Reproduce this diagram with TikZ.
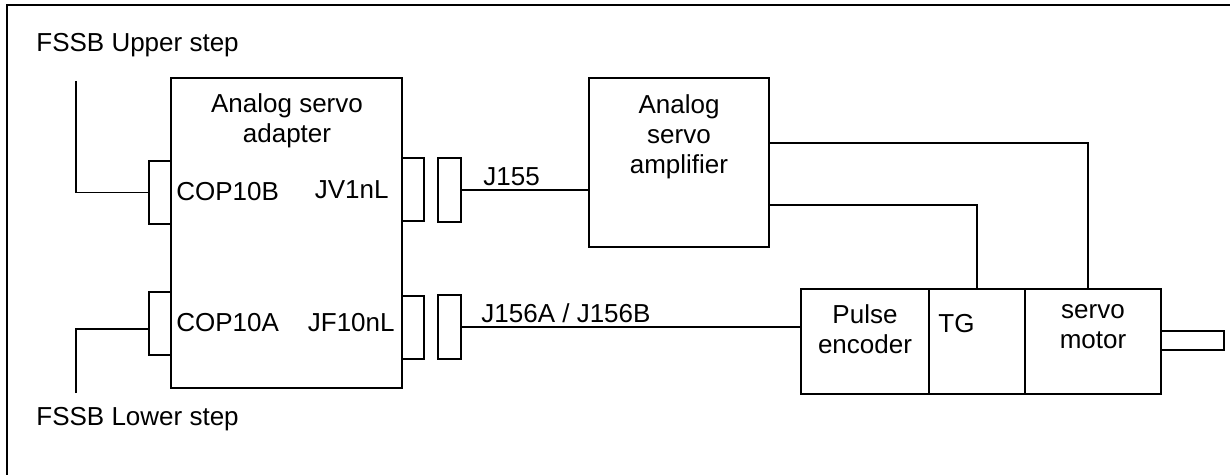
\documentclass[tikz,border=0pt]{standalone}
\usepackage{fontspec}
\setmainfont{Liberation Sans}
\usetikzlibrary{positioning}

\begin{document}
\begin{tikzpicture}[x=0.5pt,y=-0.5pt,
    box/.style={draw,line width=0.7pt,inner sep=0pt},
    filo/.style={line width=0.7pt},
    testo/.style={inner sep=0pt,font=\fontsize{13}{15}\selectfont},
    cornice/.style={line width=1.1pt}]
    \useasboundingbox (0,0) rectangle (1230,475);

    % cornice
    \draw[cornice] (7,480) |- (1240,5);

    % adattatore
    \node[box,minimum width=115.5pt,minimum height=155pt] (adapter) at (286.5,233) {};
    \node[box,minimum width=11pt,minimum height=31.5pt] (copB) at (160,192.5) {};
    \node[box,minimum width=11pt,minimum height=31.5pt] (copA) at (160,323.5) {};
    \node[box,minimum width=11pt,minimum height=31.5pt] (jvl) at (413,189.5) {};
    \node[box,minimum width=11pt,minimum height=31.5pt] (jfl) at (413,327.5) {};
    \node[box,minimum width=11.5pt,minimum height=32pt] (plugA) at (449.5,190) {};
    \node[box,minimum width=11.5pt,minimum height=32pt] (plugB) at (449.5,327) {};

    % amplificatore
    \node[box,minimum width=90pt,minimum height=84.5pt] (amp) at (679,162.5) {};

    % motore
    \node[box,minimum width=64pt,minimum height=52.5pt] (enc) at (865,341.5) {};
    \node[box,minimum width=48pt,minimum height=52.5pt] (tg) at (977,341.5) {};
    \node[box,minimum width=68pt,minimum height=52.5pt] (motor) at (1093,341.5) {};
    \node[box,minimum width=31.5pt,minimum height=9.5pt] (shaft) at (1192.5,340.5) {};

    % testi
    \node[testo,anchor=base west] (upper) at (36,52) {FSSB Upper step};
    \node[testo,anchor=base west] (lower) at (36,425) {FSSB Lower step};
    \node[testo,anchor=north,align=center] (adtxt) at (287,93) {Analog servo\\adapter};
    \node[testo,anchor=base west] (copBtxt) at (176,201) {COP10B};
    \node[testo,anchor=base east] (jvltxt) at (389,199) {JV1nL};
    \node[testo,anchor=base west] (copAtxt) at (176,332) {COP10A};
    \node[testo,anchor=base east] (jfltxt) at (395,332) {JF10nL};
    \node[testo,anchor=base west] (jA) at (483,186) {J155};
    \node[testo,anchor=base west] (jB) at (481,322) {J156A / J156B};
    \node[testo,anchor=north,align=center] (amptxt) at (679,94) {Analog\\servo\\amplifier};
    \node[testo,anchor=north,align=center] (enctxt) at (865,304) {Pulse\\encoder};
    \node[testo,anchor=base west] (tgtxt) at (938,333) {TG};
    \node[testo,anchor=north,align=center] (motortxt) at (1093,304) {servo\\motor};

    % collegamenti
    \coordinate (upEnd) at (76,81);
    \coordinate (lowEnd) at (76,393);
    \coordinate (lowJoin) at (76,329);
    \draw[filo] (upEnd) |- (copB.west);
    \draw[filo] (lowEnd) -- (lowJoin) -- (copA.west |- lowJoin);
    \draw[filo] (plugA.east) -- (amp.west |- plugA.east);
    \draw[filo] (plugB.east) -- (enc.west |- plugB.east);
    \draw[filo] (amp.east) ++(0,-19.5) -| ([xshift=-2.5pt]motor.north);
    \draw[filo] (amp.east) ++(0,42.5) -| (tg.north);

\end{tikzpicture}
\end{document}
